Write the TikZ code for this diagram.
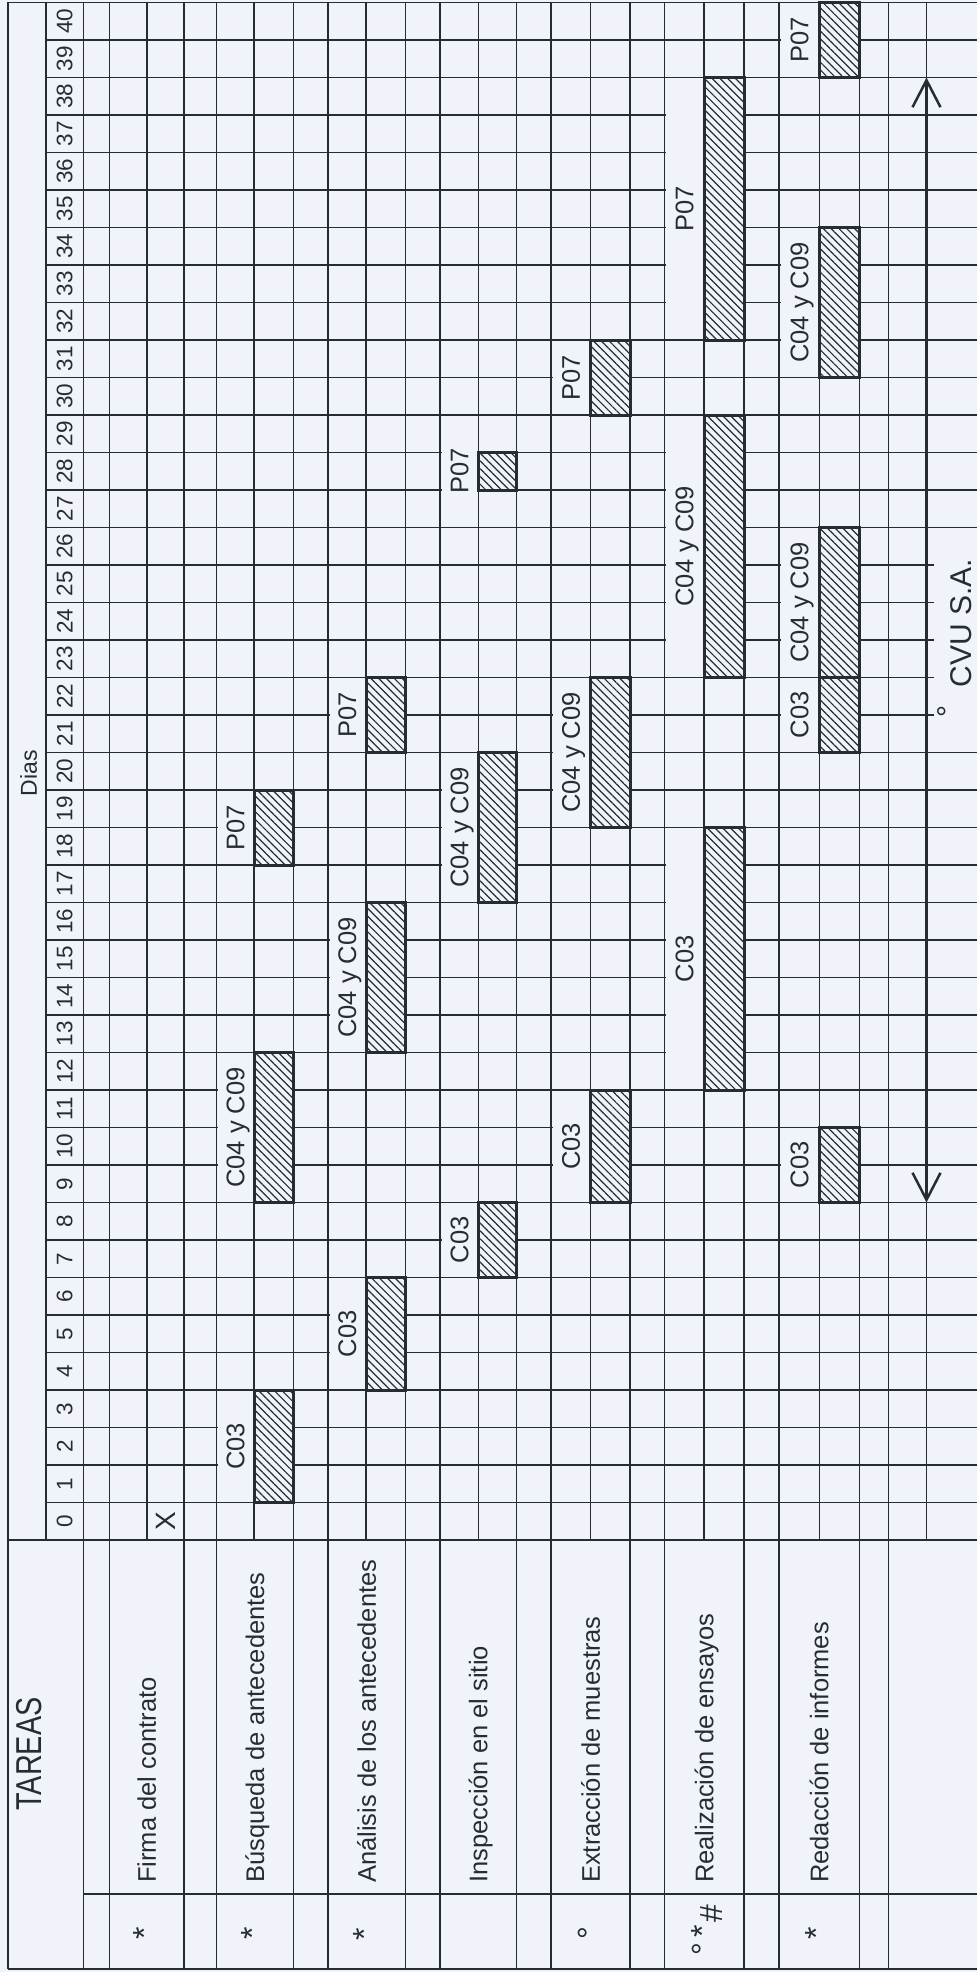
\documentclass[tikz,border=0pt]{standalone}
\usepackage{fontspec}
\setmainfont{Liberation Sans}
\usetikzlibrary{arrows.meta,patterns.meta}

\definecolor{paper}{RGB}{241,243,250}
\definecolor{ink}{RGB}{38,44,50}

\newcommand\cellh{37.5}
\newcommand\gridbot{1540}

\begin{document}
\begin{tikzpicture}[
  x=1pt, y=-1pt,
  font=\fontsize{25.5}{30}\selectfont,
  rule/.style={draw=ink,line width=1.9pt},
  daynum/.style={rotate=90,font=\fontsize{22.5}{27}\selectfont,inner sep=0pt,text=ink},
  tasklab/.style={rotate=90,anchor=base west,inner sep=0pt,text=ink},
  symb/.style={rotate=90,anchor=base,inner sep=0pt,font=\fontsize{32}{36}\selectfont,text=ink},
  barlab/.style={rotate=90,fill=paper,inner sep=0pt,text height=18.4pt,text depth=0pt,text=ink},
  bar/.style={draw=ink,line width=3pt,preaction={fill=paper},
    pattern={Lines[angle=-45,distance=5.5pt,line width=1.2pt]},pattern color=ink},
  arrowline/.style={draw=ink,line width=2.5pt,
    {Straight Barb[length=27pt,width=28pt]}-{Straight Barb[length=27pt,width=28pt]}}
]
\useasboundingbox (0,0) rectangle (977,1972);
\fill[paper] (0,0) rectangle (977,1972);

% day grid
\foreach \k in {1,...,40}
  \draw[rule] (46,{\gridbot-\k*\cellh}) -- (977,{\gridbot-\k*\cellh});
\foreach \x in {46,147,254,366,478.5,590.5,704,819.5,926.5}
  \draw[rule] (\x,2.5) -- (\x,\gridbot);
\foreach \x in {83.5,109.5,184,216.5,293.5,328,405.5,440,516.5,551,630,664.5,744,779,859.5,888.5}
  \draw[rule] (\x,2.5) -- (\x,1969);
\draw[rule] (8,2.5) -- (977,2.5);
\draw[rule] (8,\gridbot) -- (977,\gridbot);
\draw[rule] (83.5,1894) -- (977,1894);
\draw[rule] (8,1969) -- (977,1969);
\draw[rule] (8,2.5) -- (8,1969);

% headers
\node[rotate=90,inner sep=0pt,text=ink,font=\fontsize{23}{27}\selectfont] (dias) at (28.6,773) {Dias};
\node[rotate=90,anchor=base,inner sep=0pt,text=ink,font=\fontsize{36}{40}\selectfont]
  (tareas) at (41.5,1754) {\scalebox{0.8}[1]{TAREAS}};
\foreach \k in {0,...,40}
  \node[daynum] (d\k) at (64.75,{\gridbot-(\k+0.5)*\cellh}) {\k};

% tasks
\node[tasklab] (firma) at (155.9,1883) {Firma del contrato};
\node[tasklab] (busq) at (264.1,1883) {Búsqueda de antecedentes};
\node[tasklab] (anal) at (375.9,1883) {Análisis de los antecedentes};
\node[tasklab] (insp) at (487.4,1883) {Inspección en el sitio};
\node[tasklab] (extr) at (599.9,1883) {Extracción de muestras};
\node[tasklab] (real) at (713.4,1883) {Realización de ensayos};
\node[tasklab] (reda) at (828.4,1883) {Redacción de informes};

\node[symb] (sfirma) at (155,1933) {*};
\node[symb] (sbusq) at (263,1933) {*};
\node[symb] (sanal) at (375,1934) {*};
\node[symb] (sextr) at (600,1933) {°};
\node[symb] (sreal1) at (714,1949) {°};
\node[symb] (sreal2) at (713.3,1931) {*};
\node[symb] (sreal3) at (722,1914) {\#};
\node[symb] (sreda) at (827,1933) {*};

\node[rotate=90,inner sep=0pt,text=ink,font=\fontsize{28}{32}\selectfont] (firmax) at (165.5,1521) {X};

% bars: label column, bar column, first and last day
\foreach \lx/\bx/\rx/\ka/\kb/\txt [count=\i] in {
  216.5/254/293.5/1/3/C03, 216.5/254/293.5/9/12/C04 y C09, 216.5/254/293.5/18/19/P07,
  328/366/405.5/4/6/C03, 328/366/405.5/13/16/C04 y C09, 328/366/405.5/21/22/P07,
  440/478.5/516.5/7/8/C03, 440/478.5/516.5/17/20/C04 y C09, 440/478.5/516.5/28/28/P07,
  551/590.5/630/9/11/C03, 551/590.5/630/19/22/C04 y C09, 551/590.5/630/30/31/P07,
  664.5/704/744/12/18/C03, 664.5/704/744/23/29/C04 y C09, 664.5/704/744/32/38/P07,
  779/819.5/859.5/9/10/C03, 779/819.5/859.5/21/22/C03, 779/819.5/859.5/23/26/C04 y C09,
  779/819.5/859.5/31/34/C04 y C09, 779/819.5/859.5/39/40/P07} {
  \pgfmathsetmacro\ytop{\gridbot-(\kb+1)*\cellh}
  \pgfmathsetmacro\ybot{\gridbot-\ka*\cellh}
  \pgfmathsetmacro\len{(\kb-\ka+1)*\cellh-3}
  \pgfmathsetmacro\wid{\bx-\lx-3}
  \draw[bar] (\bx,\ytop) rectangle (\rx,\ybot);
  \node[barlab,minimum width=\len pt,minimum height=\wid pt] (bl\i)
    at ({(\lx+\bx)/2},{(\ytop+\ybot)/2}) {\txt};
}

% span of the work
\coordinate (arrlo) at (926.5,1202.5);
\coordinate (arrhi) at (926.5,77.5);
\draw[arrowline] (arrlo) -- (arrhi);
\fill[paper] (934,550) rectangle (977,726);
\node[rotate=90,anchor=base east,inner sep=3pt,text=ink,font=\fontsize{30}{34}\selectfont]
  (cvu) at (971,556) {\raisebox{12.5pt}{°}\hspace{18pt}CVU S.A.};
\end{tikzpicture}
\end{document}
